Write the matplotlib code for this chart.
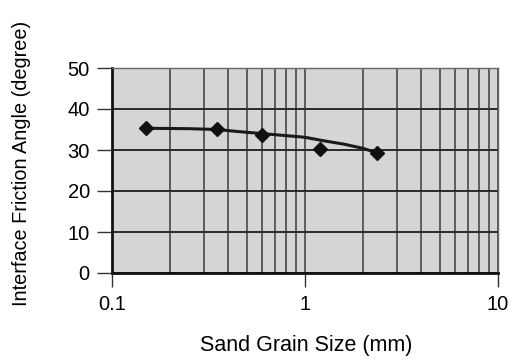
import numpy as np
import matplotlib.pyplot as plt
from matplotlib.ticker import LogLocator, FixedLocator, NullFormatter

plt.rcParams['font.family'] = ['Liberation Sans', 'DejaVu Sans']

# measured points
grain_size = [0.15, 0.35, 0.6, 1.2, 2.36]
friction_angle = [35.4, 35.1, 33.7, 30.2, 29.3]

# trend line
trend_x = [0.15, 0.25, 0.35, 0.45, 0.6, 0.8, 1.0, 1.2, 1.6, 2.0, 2.36]
trend_y = [35.3, 35.2, 35.0, 34.5, 34.0, 33.5, 33.1, 32.4, 31.4, 30.4, 29.3]

y_ticks = [0, 10, 20, 30, 40, 50]
x_ticks = [0.1, 1, 10]
x_tick_labels = ['0.1', '1', '10']

fig = plt.figure(figsize=(5.18, 3.6), dpi=100)
ax = fig.add_axes([112 / 518, 1 - 273 / 360, 386 / 518, 205 / 360])
ax.set_facecolor('#d4d5d7')

ax.plot(trend_x, trend_y, color='#1a1a1a', lw=2.2, zorder=3)
ax.plot(grain_size, friction_angle, ls='none', marker='D', ms=7,
        color='#111111', zorder=4)

ax.set_xscale('log')
ax.set_xlim(0.1, 10)
ax.set_ylim(0, 50)

ax.xaxis.set_major_locator(FixedLocator(x_ticks))
ax.set_xticklabels(x_tick_labels)
ax.xaxis.set_minor_locator(LogLocator(base=10, subs=np.arange(2, 10)))
ax.xaxis.set_minor_formatter(NullFormatter())
ax.set_yticks(y_ticks)

ax.grid(True, which='both', axis='x', color='#3a3a3a', lw=1.1)
ax.grid(True, which='major', axis='y', color='#2a2a2a', lw=1.4)
ax.set_axisbelow(True)

ax.tick_params(axis='x', which='minor', length=0)
ax.tick_params(axis='x', which='major', direction='out', length=10,
               width=1, color='#333333', labelsize=14.5, pad=6)
ax.tick_params(axis='y', direction='out', length=11, width=1,
               color='#333333', labelsize=14.5, pad=5)

for side in ['top', 'right']:
    ax.spines[side].set_color('#666666')
    ax.spines[side].set_linewidth(1.0)
for side in ['left', 'bottom']:
    ax.spines[side].set_color('#111111')
    ax.spines[side].set_linewidth(2.0)

ax.set_xlabel('Sand Grain Size (mm)', fontsize=15.5)
ax.set_ylabel('Interface Friction Angle (degree)', fontsize=14.3)
ax.xaxis.set_label_coords(0.504, -0.30)
ax.yaxis.set_label_coords(-0.21, 0.535)

fig.savefig('out.png', dpi=100)
